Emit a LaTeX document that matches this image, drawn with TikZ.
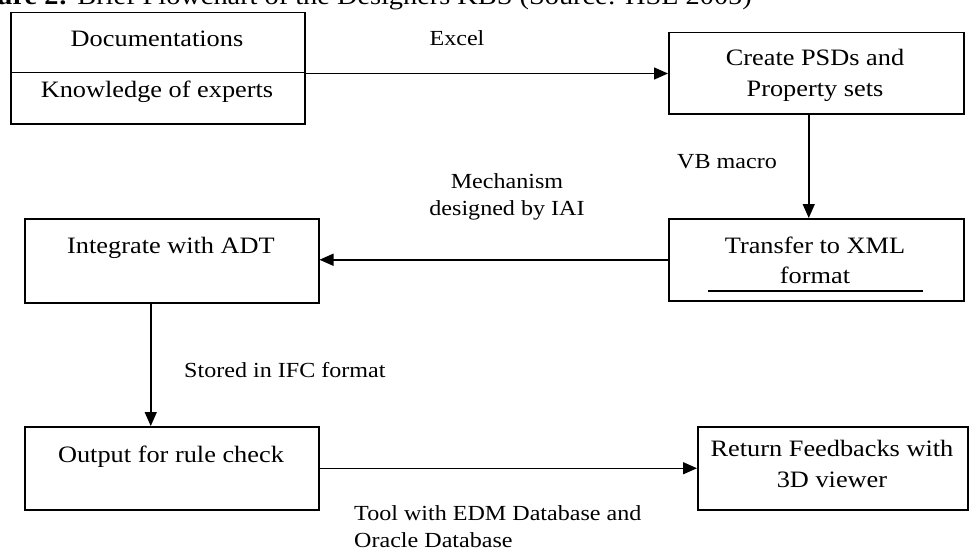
\documentclass[tikz,border=0pt]{standalone}
\usepackage{fontspec}
\setmainfont{Liberation Serif}[FakeStretch=1.12]
\usetikzlibrary{arrows.meta}
\begin{document}
\begin{tikzpicture}[x=1pt,y=-1pt,
  box/.style={draw, line width=1.5pt, inner sep=0pt, anchor=north west},
  conn/.style={line width=1.5pt, -{Triangle[length=14pt,width=12pt]}},
  btxt/.style={font=\fontsize{23.5}{30}\selectfont, inner sep=0pt, anchor=base},
  lbl/.style={font=\fontsize{21.5}{29}\selectfont, inner sep=0pt, anchor=base},
]
\useasboundingbox (0,0) rectangle (978,551);
\clip (0,0) rectangle (978,551);

% title (cut at the top/left as in the reference)
\node[inner sep=0pt, anchor=base east, font=\fontsize{25.3}{30}\selectfont] (title) at (752,5)
  {\textbf{Figure 2:} Brief Flowchart of the Designers KBS (Source: HSL 2005)};

% boxes
\node[box, minimum width=294pt, minimum height=60pt] (doc) at (10,12) {};
\node[box, minimum width=294pt, minimum height=51pt] (know) at (10,72) {};
\node[box, minimum width=295pt, minimum height=81pt] (psd) at (668,32) {};
\node[box, minimum width=295pt, minimum height=82pt] (xml) at (668,218) {};
\node[box, minimum width=294pt, minimum height=84pt] (adt) at (24,218) {};
\node[box, minimum width=294pt, minimum height=83pt] (out) at (24,426) {};
\node[box, minimum width=270pt, minimum height=83pt] (fb) at (697,426) {};

% box texts
\node[btxt] (tdoc) at (157,47) {Documentations};
\node[btxt] (tknow) at (157,98) {Knowledge of experts};
\node[btxt] (tpsd1) at (815,66) {Create PSDs and};
\node[btxt] (tpsd2) at (815,96) {Property sets};
\node[btxt] (txml1) at (815,253) {Transfer to XML};
\node[btxt] (txml2) at (815,283) {format};
\node[btxt] (tadt) at (171,253) {Integrate with ADT};
\node[btxt] (tout) at (171,462) {Output for rule check};
\node[btxt] (tfb1) at (832,456) {Return Feedbacks with};
\node[btxt] (tfb2) at (832,487) {3D viewer};
\draw[line width=1.1pt] (708,291) coordinate (ul1) -- (923,291) coordinate (ul2);

% connectors
\draw[conn] (doc.south east) -- (doc.south east -| psd.west);
\draw[conn] ([xshift=-7.5pt]psd.south) -- ([xshift=-7.5pt]xml.north);
\draw[conn] (xml.west) -- (xml.west -| adt.east);
\draw[conn] ([xshift=-21pt]adt.south) -- ([xshift=-21pt]out.north);
\draw[conn] (out.east) -- (out.east -| fb.west);

% connector labels
\node[lbl] (lexcel) at (457,46) {Excel};
\node[lbl, anchor=base west] (lvb) at (677,168) {VB macro};
\node[lbl] (lmech1) at (507,188) {Mechanism};
\node[lbl] (lmech2) at (507,215) {designed by IAI};
\node[lbl, anchor=base west] (lifc) at (184,377) {Stored in IFC format};
\node[lbl, anchor=base west] (ltool1) at (354,520) {Tool with EDM Database and};
\node[lbl, anchor=base west] (ltool2) at (354,547) {Oracle Database};
\end{tikzpicture}
\end{document}
